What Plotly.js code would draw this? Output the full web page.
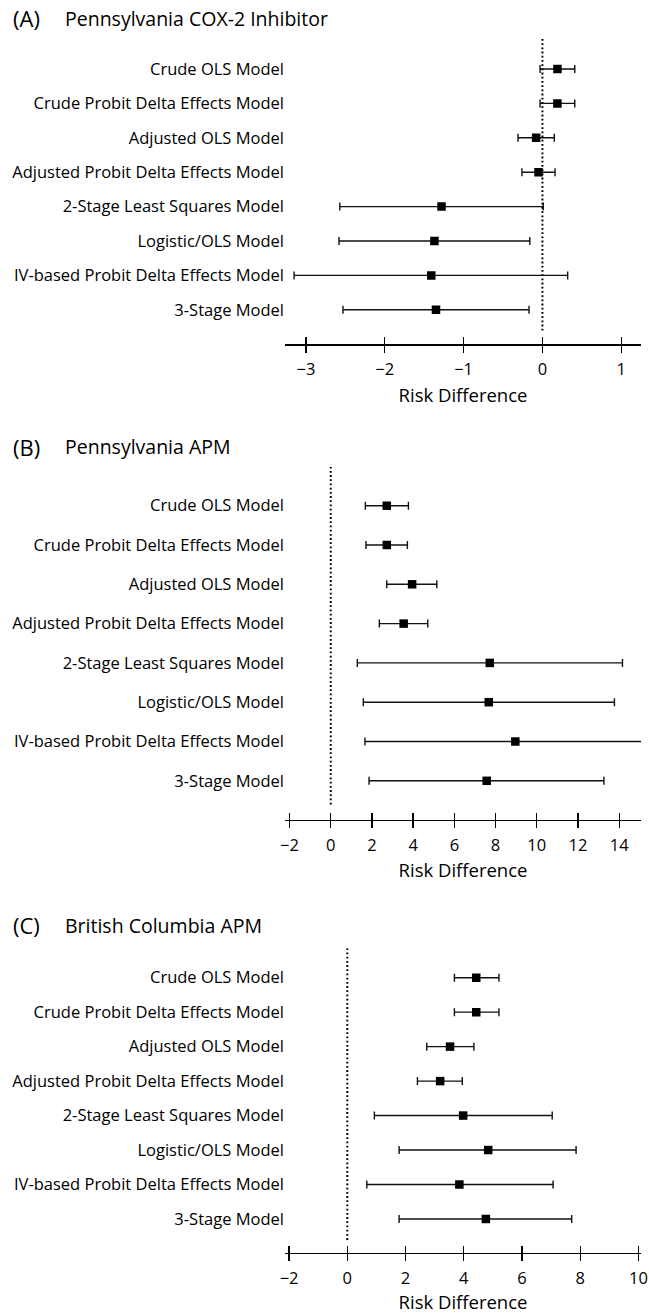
<!DOCTYPE html>
<html>
<head>
<meta charset="utf-8">
<script src="https://cdn.plot.ly/plotly-3.0.1.min.js"></script>
<style>
  html, body { margin: 0; padding: 0; background: #fff; }
  #chart { width: 649px; height: 1314px; }
</style>
</head>
<body>
<div id="chart"></div>
<script>
// ---------------- data ----------------
const models = [
  "Crude OLS Model",
  "Crude Probit Delta Effects Model",
  "Adjusted OLS Model",
  "Adjusted Probit Delta Effects Model",
  "2-Stage Least Squares Model",
  "Logistic/OLS Model",
  "IV-based Probit Delta Effects Model",
  "3-Stage Model"
];

const panelTags   = ["(A)", "(B)", "(C)"];
const panelTitles = ["Pennsylvania COX-2 Inhibitor", "Pennsylvania APM", "British Columbia APM"];

// (A) Pennsylvania COX-2 Inhibitor
const estA = [0.19, 0.19, -0.08, -0.05, -1.28, -1.37, -1.41, -1.35];
const lowA = [-0.03, -0.03, -0.31, -0.26, -2.57, -2.58, -3.15, -2.53];
const uppA = [0.41, 0.41, 0.15, 0.16, 0.01, -0.16, 0.32, -0.17];

// (B) Pennsylvania APM
const estB = [2.72, 2.72, 3.95, 3.54, 7.72, 7.67, 8.96, 7.57];
const lowB = [1.68, 1.71, 2.72, 2.36, 1.29, 1.58, 1.66, 1.86];
const uppB = [3.77, 3.72, 5.15, 4.71, 14.16, 13.77, 15.6, 13.26];

// (C) British Columbia APM
const estC = [4.43, 4.43, 3.53, 3.19, 3.98, 4.84, 3.85, 4.76];
const lowC = [3.68, 3.68, 2.73, 2.41, 0.93, 1.78, 0.67, 1.78];
const uppC = [5.21, 5.21, 4.35, 3.95, 7.04, 7.86, 7.07, 7.71];

const ticksA = [-3, -2, -1, 0, 1];
const ticksB = [-2, 0, 2, 4, 6, 8, 10, 12, 14];
const ticksC = [-2, 0, 2, 4, 6, 8, 10];

const refValue = 0;
const axisTitle = "Risk Difference";

// ---------------- layout helpers ----------------
const W = 649, H = 1314;
const FONT = "'Open Sans', 'Noto Sans', sans-serif";
const px = v => v / W;
const py = v => (H - v) / H;   // pixel from top -> paper fraction

const panels = [
  { est: estA, low: lowA, upp: uppA, ticks: ticksA, xr: [-3.265, 1.25],
    top: 39, bottom: 344.3, yr: [8.003, -0.872], dotEnd: 7.65, titleY: 18 },
  { est: estB, low: lowB, upp: uppB, ticks: ticksB, xr: [-2.22, 15.06],
    top: 466.7, bottom: 820, yr: [7.997, -0.992], dotEnd: 7.65, titleY: 447 },
  { est: estC, low: lowC, upp: uppC, ticks: ticksC, xr: [-2.14, 10.09],
    top: 948.3, bottom: 1253, yr: [7.987, -0.853], dotEnd: 7.61, titleY: 925 }
];

const data = [];
const layout = {
  width: W, height: H,
  margin: { l: 0, r: 0, t: 0, b: 0, pad: 0 },
  paper_bgcolor: "#fff", plot_bgcolor: "#fff",
  showlegend: false,
  font: { family: FONT, color: "#000" },
  shapes: [], annotations: []
};

panels.forEach((p, k) => {
  const n = k + 1;
  const xa = "x" + (n === 1 ? "" : n);
  const ya = "y" + (n === 1 ? "" : n);
  const xKey = "xaxis" + (n === 1 ? "" : n);
  const yKey = "yaxis" + (n === 1 ? "" : n);
  const ovN = n + 3;

  data.push({
    type: "scatter", mode: "markers",
    x: p.est, y: models,
    xaxis: xa, yaxis: ya,
    marker: { symbol: "square", size: 8.5, color: "#000" },
    error_x: {
      type: "data", symmetric: false,
      array: p.upp.map((u, i) => u - p.est[i]),
      arrayminus: p.low.map((l, i) => p.est[i] - l),
      color: "#111", thickness: 1.4, width: 4
    },
    hoverinfo: "skip", cliponaxis: true
  });
  // invisible companion trace so the overlay axis (inner tick halves) is drawn
  data.push({
    type: "scatter", mode: "markers",
    x: p.est, y: models,
    xaxis: "x" + ovN, yaxis: ya,
    marker: { size: 1, opacity: 0 },
    hoverinfo: "skip"
  });

  layout[xKey] = {
    domain: [px(285), px(641)],
    anchor: ya, range: p.xr,
    tickmode: "array", tickvals: p.ticks,
    ticks: "outside", ticklen: 7, tickwidth: 1.3, tickcolor: "#000",
    showline: true, linecolor: "#000", linewidth: 1.3,
    showgrid: false, zeroline: false,
    tickfont: { size: 16.5, family: FONT, color: "#000" },
    ticklabelstandoff: 3,
    title: { text: axisTitle, font: { size: 18.5, family: FONT, color: "#000" }, standoff: 9 },
    fixedrange: true
  };
  // overlay axis to draw the upward half of the crossing tick marks
  layout["xaxis" + ovN] = {
    overlaying: xa, anchor: ya, side: "bottom", range: p.xr,
    tickmode: "array", tickvals: p.ticks,
    ticks: "inside", ticklen: 7, tickwidth: 1.3, tickcolor: "#000",
    showticklabels: false, showline: false, showgrid: false, zeroline: false,
    fixedrange: true
  };
  layout[yKey] = {
    domain: [py(p.bottom), py(p.top)],
    anchor: xa, type: "category",
    range: p.yr,
    showline: false, showgrid: false, zeroline: false,
    ticks: "", ticklen: 0,
    tickfont: { size: 16.5, family: FONT, color: "#000" },
    fixedrange: true
  };

  layout.shapes.push({
    type: "line", xref: xa, yref: ya,
    x0: refValue, x1: refValue, y0: p.yr[1], y1: p.dotEnd,
    line: { color: "#000", width: 2, dash: "1.8px,2.4px" }
  });

  layout.annotations.push({
    xref: "paper", yref: "paper", x: px(11), y: py(p.titleY),
    xanchor: "left", yanchor: "middle", showarrow: false,
    text: panelTags[k], font: { size: 22, family: FONT, color: "#000" }
  });
  layout.annotations.push({
    xref: "paper", yref: "paper", x: px(63), y: py(p.titleY),
    xanchor: "left", yanchor: "middle", showarrow: false,
    text: panelTitles[k], font: { size: 19.5, family: FONT, color: "#000" }
  });
});

Plotly.newPlot("chart", data, layout, { displayModeBar: false, staticPlot: true });
</script>
</body>
</html>
